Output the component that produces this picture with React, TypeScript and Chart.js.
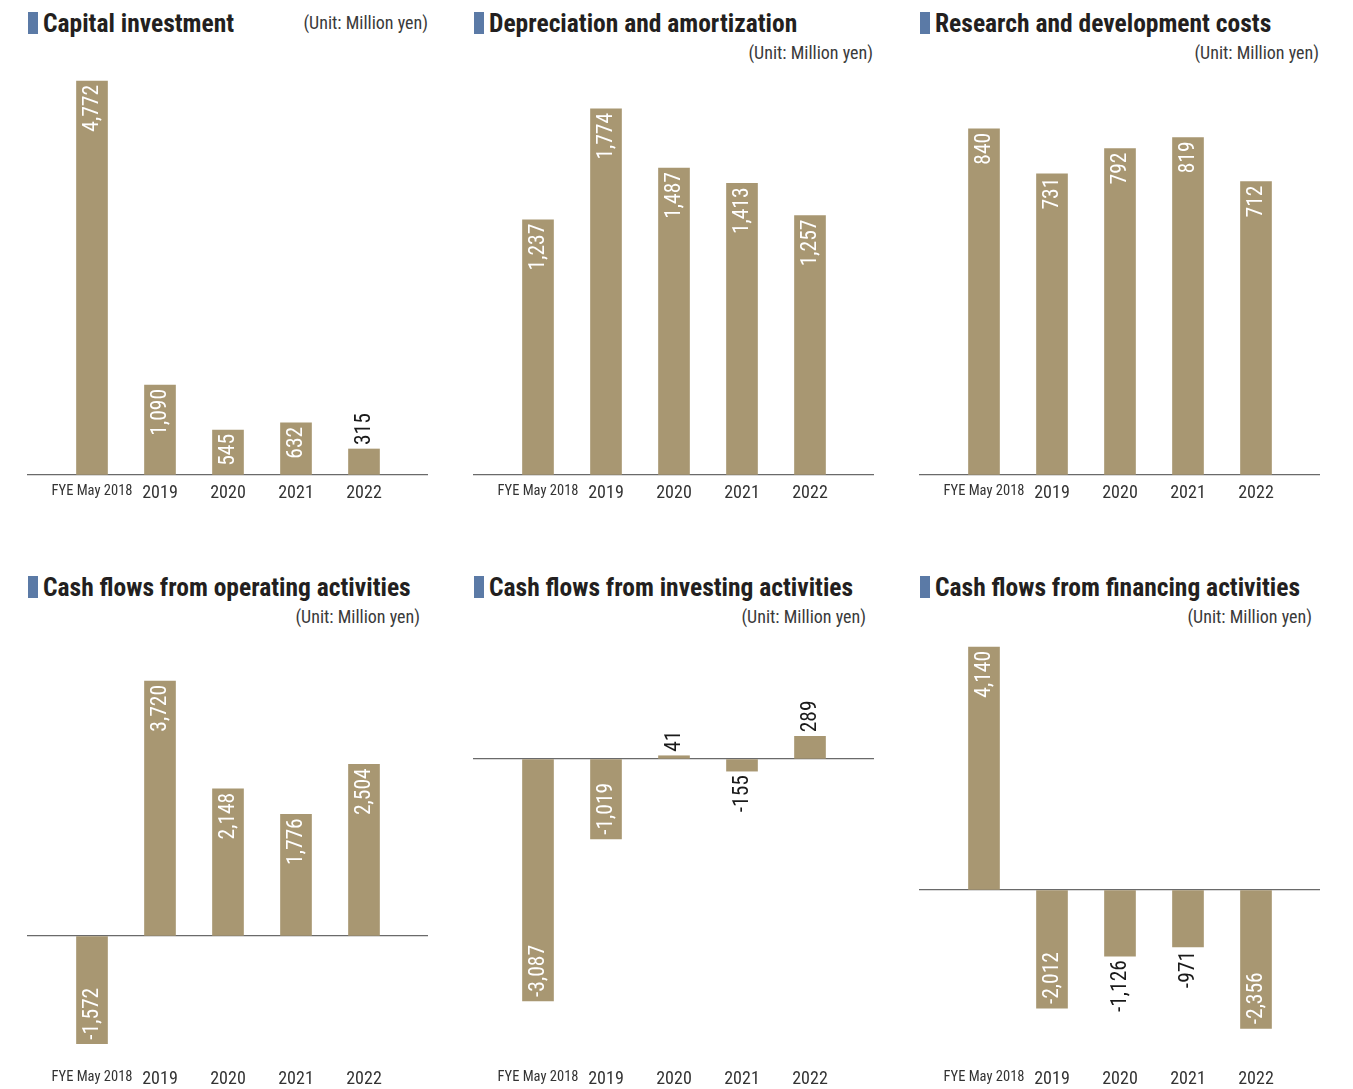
import React, { useEffect, useRef } from "react";
import { Chart, registerables } from "chart.js";
Chart.register(...registerables);

const categories = ["FYE May 2018", "2019", "2020", "2021", "2022"];
const capitalInvestment = [4772, 1090, 545, 632, 315];
const depreciation = [1237, 1774, 1487, 1413, 1257];
const rdCosts = [840, 731, 792, 819, 712];
const operatingCF = [-1572, 3720, 2148, 1776, 2504];
const investingCF = [-3087, -1019, 41, -155, 289];
const financingCF = [4140, -2012, -1126, -971, -2356];
const unitLabel = "(Unit: Million yen)";

const NARROW = '"Roboto Condensed", "Liberation Sans", sans-serif';
const BAR_COLOR = "#a89772";
const MARKER_COLOR = "#5b7aa6";
const AXIS_COLOR = "#6a6a6a";

type Panel = {
  title: string;
  values: number[];
  yMin: number;
  yMax: number;
  left: number;
  top: number;
  canvasTop: number;
  canvasHeight: number;
  unitInline: boolean;
  unitRight: number;
  outside: number[];
};

const panels: Panel[] = [
  { title: "Capital investment", values: capitalInvestment, yMin: 0, yMax: 5026, left: 27, top: 0, canvasTop: 60, canvasHeight: 441, unitInline: true, unitRight: 0, outside: [4] },
  { title: "Depreciation and amortization", values: depreciation, yMin: 0, yMax: 2011, left: 473, top: 0, canvasTop: 60, canvasHeight: 441, unitInline: false, unitRight: 1, outside: [] },
  { title: "Research and development costs", values: rdCosts, yMin: 0, yMax: 1007, left: 919, top: 0, canvasTop: 60, canvasHeight: 441, unitInline: false, unitRight: 1, outside: [] },
  { title: "Cash flows from operating activities", values: operatingCF, yMin: -1823, yMax: 4464, left: 27, top: 564, canvasTop: 630, canvasHeight: 457, unitInline: false, unitRight: 8, outside: [] },
  { title: "Cash flows from investing activities", values: investingCF, yMin: -3852, yMax: 1645, left: 473, top: 564, canvasTop: 630, canvasHeight: 457, unitInline: false, unitRight: 8, outside: [2, 3, 4] },
  { title: "Cash flows from financing activities", values: financingCF, yMin: -2913, yMax: 4429, left: 919, top: 564, canvasTop: 630, canvasHeight: 457, unitInline: false, unitRight: 8, outside: [2, 3] },
];

const AXIS_H = 26;

function BarPanel({ p }: { p: Panel }) {
  const ref = useRef<HTMLCanvasElement | null>(null);
  useEffect(() => {
    if (!ref.current) return;
    const labelPlugin = {
      id: "barLabels",
      afterDatasetsDraw(chart: any) {
        const ctx = chart.ctx;
        const meta = chart.getDatasetMeta(0);
        meta.data.forEach((bar: any, i: number) => {
          const v = p.values[i];
          const text = v.toLocaleString("en-US");
          const out = p.outside.includes(i);
          const pad = 4;
          ctx.save();
          ctx.font = `21.5px ${NARROW}`;
          ctx.fillStyle = out ? "#1a1a1a" : "#ffffff";
          ctx.textBaseline = "middle";
          let oy: number;
          let align: CanvasTextAlign;
          if (v >= 0) {
            if (out) { oy = bar.y - pad; align = "left"; }
            else { oy = bar.y + pad; align = "right"; }
          } else {
            if (out) { oy = bar.y + pad; align = "right"; }
            else { oy = bar.y - pad; align = "left"; }
          }
          ctx.translate(bar.x, oy);
          ctx.rotate(-Math.PI / 2);
          ctx.textAlign = align;
          ctx.fillText(text, 0, 1);
          ctx.restore();
        });
      },
    };
    const chart = new Chart(ref.current, {
      type: "bar",
      data: {
        datasets: [
          {
            data: p.values.map((v, i) => ({ x: i, y: v })),
            backgroundColor: BAR_COLOR,
            borderWidth: 0,
            barThickness: 31,
          },
        ],
      },
      options: {
        responsive: false,
        animation: false,
        maintainAspectRatio: false,
        layout: { padding: 0 },
        plugins: { legend: { display: false }, tooltip: { enabled: false } },
        scales: {
          x: {
            type: "linear",
            offset: false,
            min: -65 / 68,
            max: 4 + 64 / 68,
            grid: { display: false, drawTicks: false, offset: false },
            border: { display: false },
            afterBuildTicks: (scale: any) => {
              scale.ticks = categories.map((_, i) => ({ value: i }));
            },
            afterFit: (scale: any) => {
              scale.height = AXIS_H;
            },
            ticks: {
              autoSkip: false,
              maxRotation: 0,
              padding: 8,
              color: "#333333",
              font: (c: any) => ({ family: NARROW, size: c.index === 0 ? 14.5 : 18 }),
              callback: (v: any) => categories[Math.round(Number(v))] ?? "",
            },
          },
          y: {
            min: p.yMin,
            max: p.yMax,
            afterFit: (scale: any) => {
              scale.width = 0;
            },
            ticks: { display: false },
            border: { display: false },
            grid: {
              drawTicks: false,
              lineWidth: 1.2,
              color: (c: any) => (c.tick && c.tick.value === 0 ? AXIS_COLOR : "rgba(0,0,0,0)"),
            },
            afterBuildTicks: (scale: any) => {
              scale.ticks = [{ value: 0 }];
            },
          },
        },
      } as any,
      plugins: [labelPlugin],
    });
    return () => chart.destroy();
  }, [p]);

  const unitStyle: React.CSSProperties = {
    position: "absolute",
    fontFamily: NARROW,
    fontSize: 18,
    color: "#3a3a3a",
    whiteSpace: "nowrap",
    lineHeight: "22px",
  };

  return (
    <>
      <div style={{ position: "absolute", left: p.left, top: p.top, width: 401, height: 70 }}>
        <div style={{ position: "absolute", left: 1, top: 12, width: 10, height: 22, background: MARKER_COLOR }} />
        <div
          style={{
            position: "absolute",
            left: 16,
            top: 8,
            fontFamily: NARROW,
            fontWeight: "bold",
            fontSize: 25.5,
            lineHeight: "30px",
            color: "#231f20",
            whiteSpace: "nowrap",
          }}
        >
          {p.title}
        </div>
        {p.unitInline ? (
          <div style={{ ...unitStyle, right: 0, top: 12 }}>{unitLabel}</div>
        ) : (
          <div style={{ ...unitStyle, right: p.unitRight, top: 42 }}>{unitLabel}</div>
        )}
      </div>
      <canvas
        ref={ref}
        width={401}
        height={p.canvasHeight}
        style={{ position: "absolute", left: p.left, top: p.canvasTop, width: 401, height: p.canvasHeight }}
      />
    </>
  );
}

export default function App() {
  return (
    <div style={{ position: "absolute", left: 0, top: 0, width: 1353, height: 1089, background: "#ffffff", overflow: "hidden" }}>
      {panels.map((p) => (
        <BarPanel key={p.title} p={p} />
      ))}
    </div>
  );
}
